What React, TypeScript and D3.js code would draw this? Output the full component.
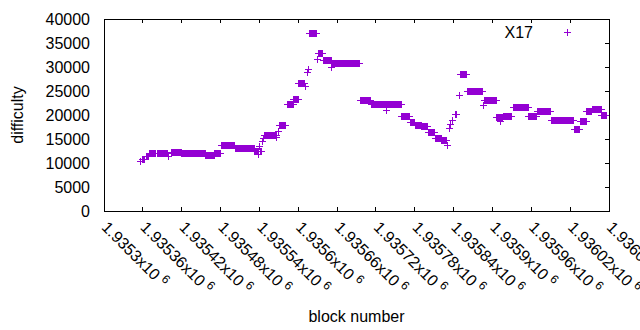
import { useEffect, useRef } from 'react';
import * as d3 from 'd3';

// difficulty runs: [first block, last block, difficulty]
const runs: [number, number, number][] = [
  [1935356, 1935357, 10300],
  [1935360, 1935363, 10800],
  [1935365, 1935368, 11300],
  [1935370, 1935380, 11900],
  [1935383, 1935398, 12000],
  [1935399, 1935399, 11300],
  [1935404, 1935419, 12200],
  [1935420, 1935456, 12000],
  [1935457, 1935470, 11600],
  [1935471, 1935480, 12000],
  [1935481, 1935502, 13700],
  [1935503, 1935532, 13050],
  [1935533, 1935538, 12500],
  [1935539, 1935539, 11700],
  [1935540, 1935540, 13400],
  [1935541, 1935544, 12500],
  [1935545, 1935545, 14400],
  [1935546, 1935546, 15100],
  [1935548, 1935566, 15800],
  [1935567, 1935567, 15300],
  [1935569, 1935569, 16500],
  [1935571, 1935581, 17900],
  [1935583, 1935592, 22200],
  [1935593, 1935600, 23300],
  [1935601, 1935610, 26600],
  [1935611, 1935611, 25900],
  [1935615, 1935615, 28800],
  [1935616, 1935616, 29400],
  [1935618, 1935628, 37000],
  [1935629, 1935629, 31600],
  [1935631, 1935638, 32850],
  [1935639, 1935651, 31300],
  [1935652, 1935652, 30000],
  [1935653, 1935695, 30750],
  [1935696, 1935712, 23100],
  [1935713, 1935735, 22100],
  [1935736, 1935736, 21000],
  [1935737, 1935759, 22100],
  [1935760, 1935772, 19600],
  [1935773, 1935780, 18450],
  [1935781, 1935790, 17900],
  [1935791, 1935800, 17550],
  [1935801, 1935811, 16450],
  [1935812, 1935821, 15150],
  [1935822, 1935829, 14650],
  [1935831, 1935831, 13750],
  [1935833, 1935833, 17200],
  [1935835, 1935835, 18100],
  [1935838, 1935838, 18950],
  [1935843, 1935845, 20200],
  [1935849, 1935849, 24000],
  [1935850, 1935860, 28500],
  [1935861, 1935885, 25000],
  [1935886, 1935886, 21900],
  [1935887, 1935906, 23050],
  [1935907, 1935912, 19500],
  [1935913, 1935913, 18600],
  [1935914, 1935916, 19500],
  [1935917, 1935930, 19700],
  [1935932, 1935955, 21600],
  [1935956, 1935968, 19600],
  [1935969, 1935989, 20750],
  [1935991, 1936025, 18800],
  [1936026, 1936035, 16900],
  [1936036, 1936045, 18750],
  [1936046, 1936053, 20700],
  [1936054, 1936068, 21200],
  [1936069, 1936076, 19900],
];

const xDomain = [1935300, 1936080];
const yDomain = [0, 40000];
const xTicks = d3.range(1935300, 1936081, 60);
const yTicks = [0, 5000, 10000, 15000, 20000, 25000, 30000, 35000, 40000];
const seriesName = 'X17';
const xTitle = 'block number';
const yTitle = 'difficulty';

const COLOR = '#9400d3';
const FONT = '"Liberation Sans", Arial, sans-serif';

const mantissa = (v: number) => String(Number((v / 1e6).toPrecision(6)));

export default function App() {
  const svgRef = useRef<SVGSVGElement>(null);

  useEffect(() => {
    if (!svgRef.current) return;
    const svg = d3.select(svgRef.current);
    svg.selectAll('*').remove();

    const left = 104, right = 609, top = 19, bottom = 211;
    const x = d3.scaleLinear().domain(xDomain).range([left, right]);
    const y = d3.scaleLinear().domain(yDomain).range([bottom, top]);

    // one point per block
    const points = runs.flatMap(([b0, b1, d]) =>
      d3.range(b0, b1 + 1).map(b => ({ block: b, difficulty: d }))
    );

    const plus = (cx: number, cy: number) =>
      `M${cx - 3.5},${cy}h7M${cx},${cy - 3.5}v7`;

    svg.append('rect')
      .attr('width', 640)
      .attr('height', 330)
      .attr('fill', '#fff');

    // tick marks (inward, bottom/top/right)
    const ticks = svg.append('g')
      .attr('stroke', '#000')
      .attr('stroke-width', 1)
      .attr('shape-rendering', 'crispEdges');

    xTicks.forEach(v => {
      ticks.append('line')
        .attr('x1', x(v)).attr('x2', x(v))
        .attr('y1', bottom).attr('y2', bottom - 4);
      ticks.append('line')
        .attr('x1', x(v)).attr('x2', x(v))
        .attr('y1', top).attr('y2', top + 4);
    });
    yTicks.forEach(v => {
      ticks.append('line')
        .attr('x1', right).attr('x2', right - 4)
        .attr('y1', y(v)).attr('y2', y(v));
    });

    // data
    svg.append('g')
      .attr('stroke', COLOR)
      .attr('stroke-width', 1)
      .attr('fill', 'none')
      .attr('shape-rendering', 'crispEdges')
      .selectAll('path')
      .data(points)
      .join('path')
      .attr('d', d => plus(x(d.block), y(d.difficulty)));

    // border
    svg.append('rect')
      .attr('x', left)
      .attr('y', top)
      .attr('width', right - left)
      .attr('height', bottom - top)
      .attr('fill', 'none')
      .attr('stroke', '#000')
      .attr('shape-rendering', 'crispEdges');

    // y labels
    svg.append('g')
      .selectAll('text')
      .data(yTicks)
      .join('text')
      .attr('x', 90)
      .attr('y', d => y(d))
      .attr('text-anchor', 'end')
      .attr('dominant-baseline', 'central')
      .attr('font-family', FONT)
      .attr('font-size', 16)
      .attr('fill', '#000')
      .text(d => d);

    // x labels, rotated
    xTicks.forEach(v => {
      const t = svg.append('text')
        .attr('transform', `translate(${x(v) + 1},${224}) rotate(45)`)
        .attr('dominant-baseline', 'central')
        .attr('font-family', FONT)
        .attr('font-size', 16)
        .attr('fill', '#000');
      t.append('tspan').text(`${mantissa(v)}x10`);
      t.append('tspan')
        .attr('dx', 4)
        .attr('dy', -4)
        .attr('font-size', 12)
        .text('6');
    });

    // axis titles
    svg.append('text')
      .attr('transform', `translate(17,${(top + bottom) / 2}) rotate(-90)`)
      .attr('text-anchor', 'middle')
      .attr('dominant-baseline', 'central')
      .attr('font-family', FONT)
      .attr('font-size', 16)
      .text(yTitle);

    svg.append('text')
      .attr('x', (left + right) / 2)
      .attr('y', 316)
      .attr('text-anchor', 'middle')
      .attr('dominant-baseline', 'central')
      .attr('font-family', FONT)
      .attr('font-size', 16)
      .text(xTitle);

    // legend
    svg.append('text')
      .attr('x', 533)
      .attr('y', 32)
      .attr('text-anchor', 'end')
      .attr('dominant-baseline', 'central')
      .attr('font-family', FONT)
      .attr('font-size', 16)
      .text(seriesName);
    svg.append('path')
      .attr('d', plus(567, 32))
      .attr('stroke', COLOR)
      .attr('shape-rendering', 'crispEdges');
  }, []);

  return (
    <svg
      ref={svgRef}
      width={640}
      height={330}
      style={{ position: 'absolute', top: 0, left: 0 }}
    />
  );
}
